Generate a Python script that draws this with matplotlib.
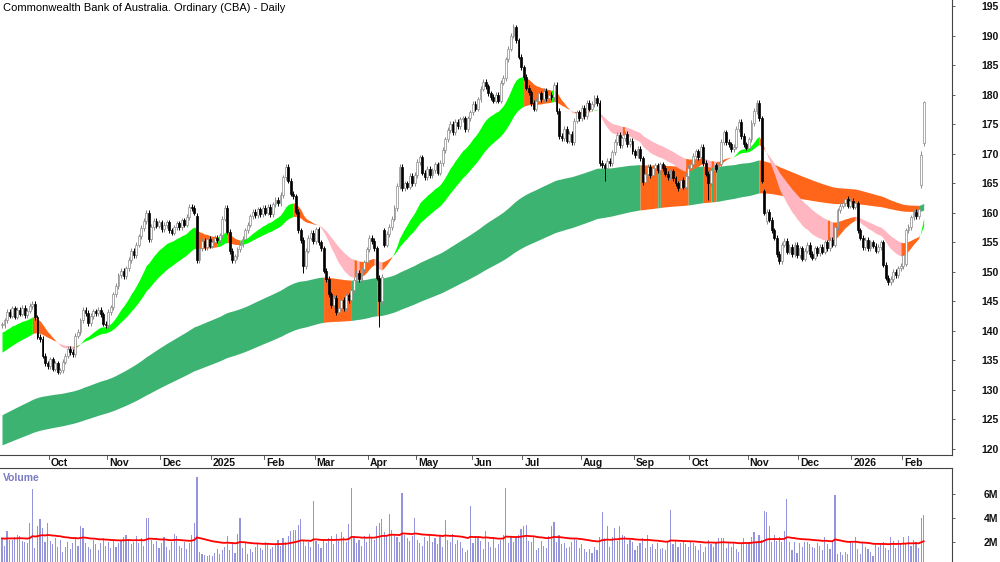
import numpy as np
import pandas as pd
import matplotlib
matplotlib.use("Agg")
import matplotlib.pyplot as plt
from matplotlib.transforms import blended_transform_factory

# ---------------- data ----------------
title = "Commonwealth Bank of Australia. Ordinary (CBA) - Daily"
end_date = "2026-02-12"
asx_holidays = ["2024-12-25", "2024-12-26", "2025-01-01", "2025-01-27", "2025-04-18",
                "2025-04-21", "2025-04-25", "2025-06-09", "2025-12-25", "2025-12-26",
                "2026-01-01", "2026-01-26"]

closes = [
    141.0, 141.8, 143.2, 142.6, 143.8, 142.4, 143.6, 142.9, 143.9, 142.7,
    143.4, 144.2, 144.6, 142.3, 139.0, 138.6, 135.8, 134.5, 134.0, 135.2,
    133.6, 134.5, 133.1, 133.3, 134.8, 135.8, 137.0, 136.4, 136.0, 139.2,
    139.8, 141.8, 143.6, 143.0, 141.3, 142.5, 143.3, 143.0, 143.6, 142.8,
    141.2, 141.0, 143.2, 144.0, 146.2, 147.6, 149.4, 150.2, 149.3, 150.6,
    152.0, 153.5, 152.8, 154.6, 156.0, 157.4, 158.6, 160.0, 155.5, 157.6,
    158.6, 157.8, 158.4, 157.2, 157.9, 158.4, 157.0, 156.6, 157.5, 158.2,
    157.6, 158.7, 158.0, 159.3, 161.0, 160.8, 160.0, 152.0, 154.0, 155.2,
    154.2, 155.6, 154.4, 155.0, 155.8, 155.4, 156.2, 159.0, 160.8, 156.8,
    153.5, 152.0, 152.6, 153.8, 154.6, 155.6, 157.0, 158.0, 159.4, 160.2,
    159.6, 160.6, 159.8, 160.8, 160.0, 161.0, 159.8, 161.4, 162.2, 161.6,
    163.0, 166.0, 167.8, 165.4, 163.2, 162.8, 160.2, 157.0, 155.4, 151.0,
    153.6, 155.8, 156.6, 155.2, 157.2, 155.0, 154.0, 150.2, 148.8, 146.2,
    144.4, 145.6, 143.2, 143.8, 145.2, 143.8, 146.0, 145.2, 147.0, 148.6,
    149.8, 148.8, 150.4, 151.6, 153.8, 155.8, 155.2, 154.0, 149.0, 145.0,
    149.2, 154.6, 156.4, 157.6, 159.0, 160.8, 164.5, 167.8, 164.2, 165.0,
    164.4, 166.2, 165.0, 166.4, 168.6, 169.4, 166.8, 166.0, 167.4, 166.4,
    167.2, 168.2, 166.8, 168.4, 170.6, 172.4, 174.0, 175.0, 173.6, 175.4,
    174.6, 175.8, 176.0, 174.2, 176.0, 177.0, 178.4, 177.6, 179.2, 181.0,
    182.2, 181.4, 180.2, 179.6, 179.0, 180.0, 179.0, 182.0, 182.8, 186.0,
    187.8, 190.0, 191.4, 189.2, 186.4, 184.6, 183.0, 181.2, 180.4, 178.6,
    177.6, 179.0, 180.2, 179.2, 180.6, 179.4, 180.0, 179.6, 181.6, 177.2,
    173.0, 172.6, 174.2, 172.2, 173.4, 172.0, 175.6, 177.0, 176.0, 177.8,
    176.4, 178.6, 177.6, 178.4, 179.4, 178.6, 168.4, 168.0, 167.6, 168.8,
    168.4, 170.2, 172.0, 173.2, 171.4, 172.6, 173.4, 171.6, 172.2, 170.4,
    169.8, 170.8, 169.2, 165.2, 166.6, 167.8, 166.4, 167.6, 168.0, 167.2,
    168.2, 167.6, 166.6, 166.0, 167.0, 165.8, 165.0, 164.2, 165.6, 164.4,
    166.2, 167.6, 168.2, 169.6, 170.4, 169.4, 171.2, 168.4, 166.6, 165.0,
    167.2, 168.0, 167.4, 168.2, 172.0, 173.6, 172.0, 171.6, 170.8, 171.2,
    174.2, 175.4, 173.0, 171.6, 171.0, 172.4, 175.2, 177.2, 178.6, 176.0,
    165.4, 160.0, 160.2, 158.8, 157.0, 155.8, 153.0, 151.8, 154.6, 155.2,
    153.4, 154.2, 153.0, 154.6, 152.8, 154.0, 152.2, 153.6, 154.6, 153.0,
    152.4, 154.0, 153.2, 154.2, 153.4, 155.0, 154.0, 155.4, 154.6, 157.6,
    160.4, 161.2, 161.6, 162.4, 161.2, 162.0, 161.0, 161.6, 157.0, 155.8,
    154.2, 155.4, 154.0, 155.0, 154.4, 153.6, 154.2, 155.0, 151.2, 149.0,
    148.2, 148.8, 150.0, 149.4, 150.6, 151.0, 152.8, 157.0, 157.6, 159.2,
    160.2, 159.4, 160.6, 169.8, 178.7,
]
# opens that differ from the prior close (gaps), and notable wick extremes
open_gaps = {77: 159.5, 151: 157.0, 301: 163.6, 302: 158.6, 357: 151.4, 363: 164.7, 364: 171.8}
high_ext = {112: 168.2, 202: 192.0, 363: 170.5, 364: 179.0}
low_ext = {119: 149.8, 149: 140.7, 238: 165.4, 279: 162.2}

volume_m = [
    2.3, 1.7, 2.9, 2.2, 2.2, 2.4, 2.6, 2.5, 2.1, 2.0,
    1.9, 3.55, 6.4, 1.5, 3.3, 3.9, 3.2, 2.0, 3.6, 2.1,
    1.8, 2.3, 1.6, 2.2, 1.2, 1.6, 2.0, 1.4, 1.9, 2.4,
    1.7, 3.3, 3.2, 1.9, 1.6, 1.4, 2.2, 1.8, 1.3, 1.9,
    2.3, 1.7, 2.0, 1.5, 2.2, 1.6, 1.9, 2.1, 2.4, 2.6,
    2.2, 1.8, 2.0, 2.5, 1.9, 2.3, 1.7, 4.0, 4.0, 2.2,
    1.8, 2.1, 1.5, 1.9, 2.4, 1.6, 1.3, 2.0, 2.7, 2.5,
    1.7, 1.5, 2.0, 1.4, 1.9, 2.6, 3.6, 7.4, 1.2, 1.0,
    0.9, 0.8, 0.9, 0.8, 1.1, 1.4, 1.0, 1.3, 1.6, 2.5,
    1.3, 1.8, 1.1, 2.7, 4.0, 1.5, 1.9, 1.0, 1.4, 1.2,
    1.6, 1.9, 1.5, 1.3, 2.0, 1.8, 1.4, 1.6, 1.8, 2.2,
    1.7, 2.3, 2.0, 2.5, 2.9, 3.0, 3.0, 3.4, 3.9, 2.2,
    1.7, 2.0, 1.6, 5.4, 2.1, 1.8, 1.5, 2.2, 1.9, 2.3,
    2.5, 1.8, 2.7, 2.1, 2.8, 2.4, 2.0, 3.5, 6.5, 2.3,
    1.9, 2.2, 1.7, 2.5, 2.0, 2.7, 2.4, 2.2, 3.3, 3.6,
    3.9, 2.8, 2.6, 4.3, 3.0, 2.6, 2.4, 2.0, 6.05, 2.6,
    2.3, 2.1, 2.5, 4.0, 2.2, 1.9, 1.7, 2.4, 2.1, 2.6,
    2.0, 2.3, 1.8, 2.5, 1.6, 3.8, 2.2, 2.0, 2.7, 1.8,
    2.2, 2.0, 1.5, 1.2, 1.3, 5.0, 1.9, 2.5, 2.3, 2.1,
    1.4, 2.9, 2.0, 1.6, 2.3, 1.5, 1.8, 2.2, 2.6, 6.5,
    1.9, 2.4, 2.0, 2.3, 2.6, 3.1, 3.3, 3.4, 2.1, 2.0,
    2.4, 1.3, 1.5, 2.1, 1.7, 1.5, 2.5, 3.3, 3.7, 2.0,
    2.6, 1.8, 1.9, 1.5, 1.6, 2.0, 2.3, 2.2, 1.5, 1.8,
    1.4, 1.2, 1.4, 1.1, 1.6, 1.3, 2.4, 4.5, 2.3, 3.3,
    1.6, 2.4, 3.2, 2.1, 3.3, 2.6, 2.5, 1.8, 2.2, 2.0,
    1.3, 1.7, 1.9, 2.3, 1.5, 2.6, 1.6, 1.8, 1.4, 1.9,
    1.4, 1.5, 1.3, 2.0, 4.7, 1.8, 2.2, 1.6, 1.9, 2.1,
    1.8, 1.6, 2.0, 1.9, 1.7, 1.3, 1.8, 1.2, 1.6, 2.2,
    1.8, 1.6, 1.9, 2.3, 2.3, 2.3, 1.5, 1.9, 1.6, 2.0,
    1.4, 1.2, 1.9, 2.3, 1.8, 2.0, 2.4, 2.8, 2.1, 2.6,
    2.2, 4.6, 4.5, 3.35, 2.0, 2.6, 2.1, 2.4, 2.0, 2.9,
    5.6, 2.0, 1.3, 2.0, 1.1, 1.9, 1.6, 2.0, 2.0, 1.8,
    1.6, 1.5, 1.9, 1.7, 1.3, 2.4, 1.8, 1.4, 2.1, 5.9,
    1.0, 1.2, 0.9, 1.2, 1.0, 2.1, 1.9, 2.4, 1.4, 1.0,
    1.9, 1.6, 1.4, 1.2, 0.8, 1.8, 1.6, 1.9, 2.0, 1.5,
    1.3, 2.4, 2.1, 1.5, 2.2, 1.8, 2.4, 1.9, 2.5, 1.7,
    2.2, 2.0, 1.5, 3.97, 4.25,
]

# moving-average state at the first visible bar
short_periods = (20, 40)
long_periods = (150, 250)
ema_seeds = {20: 139.8, 40: 136.4, 150: 125.8, 250: 120.7}
vol_ma_seed = 2.3

price_ticks = list(range(120, 200, 5))
vol_ticks = [2, 4, 6]
vol_tick_labels = ["2M", "4M", "6M"]

# ---------------- derived ----------------
N = len(closes)
c = np.array(closes)
dates = pd.bdate_range(end=end_date, periods=N, freq="C", holidays=asx_holidays)
idx = np.arange(N)
o = np.concatenate([[c[0]], c[:-1]])
for k, v in open_gaps.items():
    o[k] = v
WICK = 0.45
hi = np.maximum(o, c) + WICK
lo = np.minimum(o, c) - WICK
for k, v in high_ext.items():
    hi[k] = v
for k, v in low_ext.items():
    lo[k] = v


def ema(vals, n, seed):
    a = 2.0 / (n + 1)
    out = np.empty(len(vals))
    prev = seed
    for i, v in enumerate(vals):
        if i > 0:
            prev = prev + a * (v - prev)
        out[i] = prev
    return out


s_fast = ema(c, short_periods[0], ema_seeds[short_periods[0]])
s_slow = ema(c, short_periods[1], ema_seeds[short_periods[1]])
l_fast = ema(c, long_periods[0], ema_seeds[long_periods[0]])
l_slow = ema(c, long_periods[1], ema_seeds[long_periods[1]])
vol = np.array(volume_m)
vol_ma = ema(vol, 50, vol_ma_seed)

LIME, ORANGE, PINK, SEA = "#00ff00", "#ff661a", "#ffb6c1", "#3cb371"


def band_colors(fast, slow, up, mid, down):
    cols = []
    for i in range(len(fast)):
        rising = True if i == 0 else fast[i] >= fast[i - 1]
        if fast[i] > slow[i] and rising:
            cols.append(up)
        elif fast[i] < slow[i] and not rising:
            cols.append(down)
        else:
            cols.append(mid)
    return cols


def draw_band(ax, a, b, cols, z):
    start = 0
    for i in range(1, len(cols) + 1):
        if i == len(cols) or cols[i] != cols[start]:
            s0 = max(start - 1, 0)
            sl = slice(s0, i)
            ax.fill_between(idx[sl], a[sl], b[sl], color=cols[start], lw=0, zorder=z)
            start = i


# ---------------- figure ----------------
plt.rcParams["font.family"] = ["Liberation Sans", "DejaVu Sans"]
W, H = 1000, 562
fig = plt.figure(figsize=(W / 100, H / 100), dpi=100)
ax = fig.add_axes([0, 1 - 455 / H, 952 / W, 455 / H])
axv = fig.add_axes([0, 0, 952 / W, (H - 468) / H])

x_left, x_right = -2 / 2.532, (952 - 2) / 2.532
ax.set_xlim(x_left, x_right)
axv.set_xlim(x_left, x_right)
ax.set_ylim(120 - 6 / 5.9067, 195 + 6 / 5.9067)
axv.set_ylim((566 - 562) / 12, (566 - 468) / 12)

draw_band(ax, l_fast, l_slow, band_colors(l_fast, l_slow, SEA, ORANGE, ORANGE), 1)
draw_band(ax, s_fast, s_slow, band_colors(s_fast, s_slow, LIME, ORANGE, PINK), 2)

up = c >= o
wick_cols = np.where(up, "#8a8a8a", "#000000")
ax.vlines(idx, lo, hi, colors=wick_cols, lw=0.7, zorder=3)
body_h = np.maximum(np.abs(c - o), 0.15)
ax.bar(idx, body_h, bottom=np.minimum(o, c), width=0.74,
       color=np.where(up, "#ffffff", "#000000"),
       edgecolor=np.where(up, "#8a8a8a", "#000000"), lw=0.5, zorder=4)

axv.bar(idx, vol, width=0.45, color="#9494dc", lw=0, zorder=1)
axv.plot(idx, vol_ma, color="#ff0000", lw=1.3, zorder=2)

for a_ in (ax, axv):
    a_.set_facecolor("white")
    a_.spines["left"].set_visible(False)
    a_.spines["right"].set_color("#444444")
    a_.yaxis.tick_right()
    a_.set_xticks([])
ax.spines["top"].set_visible(False)
ax.spines["bottom"].set_color("#444444")
axv.spines["bottom"].set_visible(False)
axv.spines["top"].set_color("#444444")

tick_font = dict(fontsize=7.5, fontweight="bold", color="#111111")
ax.set_yticks(price_ticks)
ax.set_yticklabels([str(t) for t in price_ticks], **tick_font)
axv.set_yticks(vol_ticks)
axv.set_yticklabels(vol_tick_labels, **tick_font)
for a_ in (ax, axv):
    a_.tick_params(axis="y", direction="out", length=2.5, width=0.6, color="#444444", pad=31)
    for lab in a_.get_yticklabels():
        lab.set_horizontalalignment("right")

# month labels
trans = blended_transform_factory(ax.transData, ax.transAxes)
for i in range(1, N):
    if dates[i].month != dates[i - 1].month:
        lab = str(dates[i].year) if dates[i].month == 1 else dates[i].strftime("%b")
        ax.plot([i - 0.5, i - 0.5], [0, -4 / 455], transform=trans, color="#444444",
                lw=0.6, clip_on=False)
        ax.text(i + 0.3, -8 / 455, lab, transform=trans, ha="left", va="center", **tick_font)

fig.text(3 / W, 1 - 8 / H, title, ha="left", va="center", fontsize=8,
         color="#000000")
axv.text(3 / 952, 1 - 10 / 94, "Volume", transform=axv.transAxes, ha="left", va="center",
         fontsize=7.5, fontweight="bold", color="#7b7bc4")

fig.savefig("out.png", dpi=100)
